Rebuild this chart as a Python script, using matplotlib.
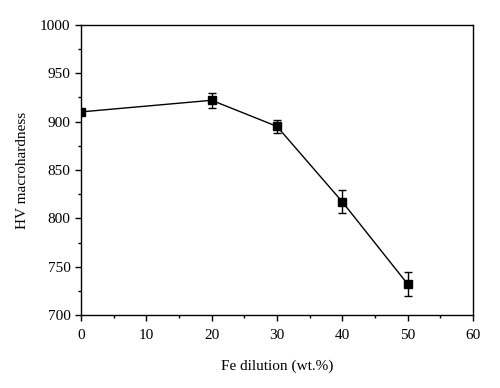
import matplotlib
matplotlib.use("Agg")
import matplotlib.pyplot as plt
from matplotlib.ticker import MultipleLocator

fe_dilution = [0, 20, 30, 40, 50]
hardness = [910, 922, 895, 817, 732]
hardness_err = [0, 8, 7, 12, 12]

plt.rcParams["font.family"] = ["Liberation Serif", "DejaVu Serif"]

fig = plt.figure(figsize=(5.0, 3.88), dpi=100)
ax = fig.add_axes([0.162, 0.188, 0.784, 0.748])
ax.errorbar(fe_dilution, hardness, yerr=hardness_err, color="black", marker="s",
            markersize=6, linewidth=1.0, elinewidth=1.0, capsize=3, capthick=1.0)

ax.set_xlim(0, 60)
ax.set_ylim(700, 1000)
ax.xaxis.set_major_locator(MultipleLocator(10))
ax.xaxis.set_minor_locator(MultipleLocator(5))
ax.yaxis.set_major_locator(MultipleLocator(50))
ax.yaxis.set_minor_locator(MultipleLocator(25))
ax.tick_params(which="major", direction="out", length=4, width=1, labelsize=11)
ax.tick_params(axis="x", which="major", pad=6)
ax.tick_params(which="minor", direction="out", length=2.5, width=1)
for s in ax.spines.values():
    s.set_linewidth(1.0)

ax.set_xlabel("Fe dilution (wt.%)", fontsize=11, labelpad=13)
ax.set_ylabel("HV macrohardness", fontsize=11, labelpad=8)

fig.savefig("out.png", dpi=100)
